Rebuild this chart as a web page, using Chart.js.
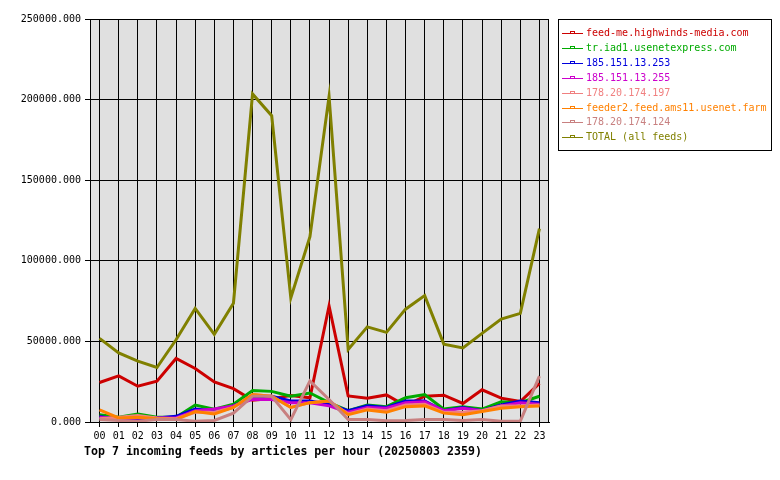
<!DOCTYPE html>
<html>
<head>
<meta charset="utf-8">
<script src="https://cdn.jsdelivr.net/npm/chart.js@4/dist/chart.umd.min.js"></script>
<style>
  html, body { margin: 0; padding: 0; background: #fff; }
</style>
</head>
<body>
<canvas id="feedChart" width="780" height="480"></canvas>
<script>
const hours = ['00','01','02','03','04','05','06','07','08','09','10','11','12','13','14','15','16','17','18','19','20','21','22','23'];

const feedNames = [
    'feed-me.highwinds-media.com',
    'tr.iad1.usenetexpress.com',
    '185.151.13.253',
    '185.151.13.255',
    '178.20.174.197',
    'feeder2.feed.ams11.usenet.farm',
    '178.20.174.124',
    'TOTAL (all feeds)'
];

const feedColors = ['#cc0000', '#00aa00', '#0000dd', '#cc00cc', '#f08080', '#ff8000', '#c88080', '#808000'];

const highwinds   = [24500, 28600, 22200, 25300, 39400, 33200, 24900, 20700, 13500, 14500, 16500, 15000, 72000, 16200, 14800, 16800, 10000, 16000, 16600, 11500, 20000, 14800, 12700, 24000];
const usenetexp   = [4500, 3000, 5000, 3000, 3000, 10500, 8000, 11000, 19500, 19000, 16000, 18000, 12000, 7000, 10500, 9500, 15000, 17000, 8000, 9500, 8000, 12500, 12000, 16000];
const ip253       = [3500, 1500, 2000, 2500, 3500, 8000, 7000, 10000, 15000, 16000, 13000, 13000, 11000, 7000, 10000, 9000, 13000, 13000, 7000, 9000, 7000, 10500, 13000, 12000];
const ip255       = [3000, 2000, 2500, 2500, 2500, 7000, 8000, 10000, 14000, 14000, 12000, 12000, 10000, 6000, 9000, 8500, 12000, 12500, 7000, 8500, 7000, 10000, 12000, 11000];
const ip197       = [2000, 3000, 4000, 2500, 2000, 6000, 6000, 9000, 17000, 16000, 9000, 12000, 13000, 5000, 8000, 7000, 10500, 11000, 6000, 6000, 7000, 10000, 10000, 10500];
const feeder2     = [7500, 2500, 3000, 2000, 1500, 6500, 5000, 9000, 17000, 16000, 9000, 12000, 13000, 4500, 7500, 6000, 9500, 10000, 5500, 4500, 6500, 8500, 9500, 10000];
const ip124       = [1500, 1000, 500, 1500, 1500, 500, 1000, 5500, 16000, 16000, 1500, 25500, 14000, 1500, 1500, 800, 1000, 1500, 1500, 1000, 1500, 500, 500, 28500];
const totalFeeds  = [51900, 42900, 37800, 33800, 51000, 70500, 54400, 73700, 203500, 190000, 77000, 115000, 202000, 45000, 59000, 55600, 70000, 78400, 48300, 46000, 55000, 63900, 67400, 120000];

const seriesValues = [highwinds, usenetexp, ip253, ip255, ip197, feeder2, ip124, totalFeeds];

const yTicks = [0, 50000, 100000, 150000, 200000, 250000];

const monoFont = '"DejaVu Sans Mono", "Liberation Mono", monospace';

const framePlugin = {
    id: 'frame',
    beforeDraw(chart) {
        const { ctx, chartArea: a } = chart;
        ctx.save();
        ctx.fillStyle = '#e0e0e0';
        ctx.fillRect(a.left, a.top, a.right - a.left, a.bottom - a.top);
        ctx.restore();
    },
    afterDraw(chart) {
        const { ctx, chartArea: a } = chart;
        ctx.save();
        ctx.strokeStyle = '#000';
        ctx.lineWidth = 1;
        ctx.strokeRect(a.left + 0.5, a.top + 0.5, a.right - a.left - 1, a.bottom - a.top);

        // legend box
        ctx.strokeRect(558.5, 19.5, 213, 131);
        ctx.font = '10px ' + monoFont;
        ctx.textBaseline = 'middle';
        ctx.textAlign = 'left';
        feedNames.forEach((name, i) => {
            const y = Math.round(33 + i * 14.9);
            ctx.fillStyle = feedColors[i];
            ctx.fillRect(562, y, 21, 1);
            ctx.fillRect(570, y - 2, 5, 1);
            ctx.fillRect(570, y - 2, 1, 3);
            ctx.fillRect(574, y - 2, 1, 3);
            ctx.fillText(name, 586, y + 0.5);
        });

        // caption below the plot
        ctx.fillStyle = '#000';
        ctx.font = 'bold 11.6px ' + monoFont;
        ctx.fillText('Top 7 incoming feeds by articles per hour (20250803 2359)', 84, 452);
        ctx.restore();
    }
};

new Chart(document.getElementById('feedChart'), {
    type: 'line',
    data: {
        labels: hours,
        datasets: feedNames.map((name, i) => ({
            label: name,
            data: seriesValues[i],
            borderColor: feedColors[i],
            backgroundColor: feedColors[i],
            borderWidth: 3,
            pointRadius: 0,
            tension: 0,
            order: feedNames.length - i
        }))
    },
    options: {
        responsive: false,
        animation: false,
        devicePixelRatio: 1,
        layout: { padding: { top: 19, right: 231, left: 0, bottom: 0 } },
        plugins: {
            legend: { display: false },
            tooltip: { enabled: false }
        },
        scales: {
            x: {
                offset: true,
                afterFit: scale => { scale.height = 58; },
                grid: { color: '#000', lineWidth: 1, offset: false, drawTicks: true, tickLength: 5 },
                border: { color: '#000' },
                ticks: {
                    color: '#000',
                    font: { family: monoFont, size: 10 },
                    padding: 3,
                    maxRotation: 0,
                    autoSkip: false
                }
            },
            y: {
                min: yTicks[0],
                max: yTicks[yTicks.length - 1],
                afterFit: scale => { scale.width = 90; },
                afterBuildTicks: scale => { scale.ticks = yTicks.map(v => ({ value: v })); },
                grid: { color: '#000', lineWidth: 1, drawTicks: true, tickLength: 5 },
                border: { color: '#000' },
                ticks: {
                    color: '#000',
                    font: { family: monoFont, size: 10 },
                    padding: 4,
                    callback: v => Number(v).toFixed(3)
                }
            }
        }
    },
    plugins: [framePlugin]
});
</script>
</body>
</html>
